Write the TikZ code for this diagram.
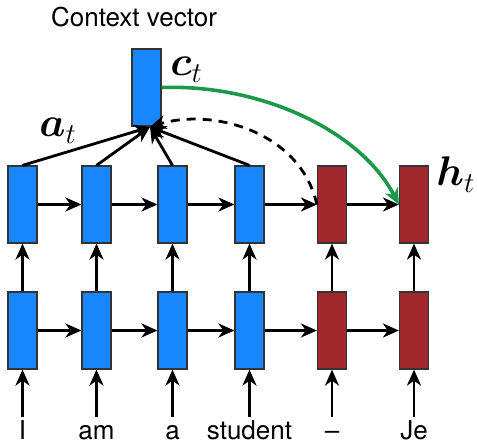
\documentclass[tikz,border=0pt]{standalone}
\usepackage{amsmath}
\usepackage{fontspec}
\setmainfont{TeX Gyre Heros}
\usetikzlibrary{arrows.meta}
\definecolor{encBlue}{RGB}{24,134,252}
\definecolor{decRed}{RGB}{160,40,44}
\definecolor{attGreen}{RGB}{28,152,74}

\begin{document}
\begin{tikzpicture}[x=0.5pt,y=-0.5pt,
  cell/.style={draw=black!80, line width=0.6pt, minimum width=14.5pt, minimum height=38.5pt, inner sep=0pt},
  enc/.style={cell, fill=encBlue},
  dec/.style={cell, fill=decRed},
  word/.style={anchor=base, inner sep=2.5pt, text height=9pt, text depth=2pt, font=\fontsize{13}{15}\selectfont},
  lbl/.style={anchor=base west, inner sep=0pt, font=\huge},
  arr/.style={line width=1.4pt, -{Stealth[length=8pt,width=7pt,inset=2.5pt]}}]
\useasboundingbox (0,0) rectangle (477,443);
% title
\node[anchor=base, inner sep=0pt, font=\fontsize{13}{15}\selectfont] (title) at (134,27) {Context vector};
% context box
\node[enc] (ctx) at (146.5,87.5) {};
\coordinate (ctxin) at (150,127);
% bottom row
\node[enc] (lo1) at (22.5,330.5) {};
\node[enc] (lo2) at (96.5,330.5) {};
\node[enc] (lo3) at (172.5,330.5) {};
\node[enc] (lo4) at (249.5,330.5) {};
\node[dec] (lo5) at (332,330.5) {};
\node[dec] (lo6) at (414,330.5) {};
% top row
\node[enc] (hi1) at (22.5,204.5) {};
\node[enc] (hi2) at (96.5,204.5) {};
\node[enc] (hi3) at (172.5,204.5) {};
\node[enc] (hi4) at (249.5,204.5) {};
\node[dec] (hi5) at (332,204.5) {};
\node[dec] (hi6) at (414,204.5) {};
% words
\node[word] (w1) at (22.5,440) {I};
\node[word] (w2) at (96.5,440) {am};
\node[word] (w3) at (172.5,440) {a};
\node[word] (w4) at (249.5,440) {student};
\node[word] (w5) at (332,440) {–};
\node[word] (w6) at (414,440) {Je};
% labels
\node[lbl] (at) at (39,137) {$\boldsymbol{a}_t$};
\node[lbl] (ct) at (170,76) {$\boldsymbol{c}_t$};
\node[lbl] (ht) at (436,186) {$\boldsymbol{h}_t$};
% inputs
\draw[arr] (w1) -- (lo1);
\draw[arr] (w2) -- (lo2);
\draw[arr] (w3) -- (lo3);
\draw[arr] (w4) -- (lo4);
\draw[arr] (w5) -- (lo5);
\draw[arr] (w6) -- (lo6);
% between layers
\draw[arr] (lo1) -- (hi1);
\draw[arr] (lo2) -- (hi2);
\draw[arr] (lo3) -- (hi3);
\draw[arr] (lo4) -- (hi4);
\draw[arr] (lo5) -- (hi5);
\draw[arr] (lo6) -- (hi6);
% recurrence
\draw[arr] (lo1) -- (lo2);
\draw[arr] (lo2) -- (lo3);
\draw[arr] (lo3) -- (lo4);
\draw[arr] (lo4) -- (lo5);
\draw[arr] (lo5) -- (lo6);
\draw[arr] (hi1) -- (hi2);
\draw[arr] (hi2) -- (hi3);
\draw[arr] (hi3) -- (hi4);
\draw[arr] (hi4) -- (hi5);
\draw[arr] (hi5) -- (hi6);
% attention
\draw[arr] (hi1.north) -- (ctxin);
\draw[arr] (hi2.north) -- (ctxin);
\draw[arr] (hi3.north) -- (ctxin);
\draw[arr] (hi4.north) -- (ctxin);
\draw[arr, dash pattern=on 4.5pt off 3.5pt] (hi5.west) .. controls (300,130) and (210,108) .. (ctxin);
\draw[arr, attGreen, line width=1.8pt] (ctx.east) .. controls (260,84) and (360,130) .. (hi6.west);
\end{tikzpicture}
\end{document}
